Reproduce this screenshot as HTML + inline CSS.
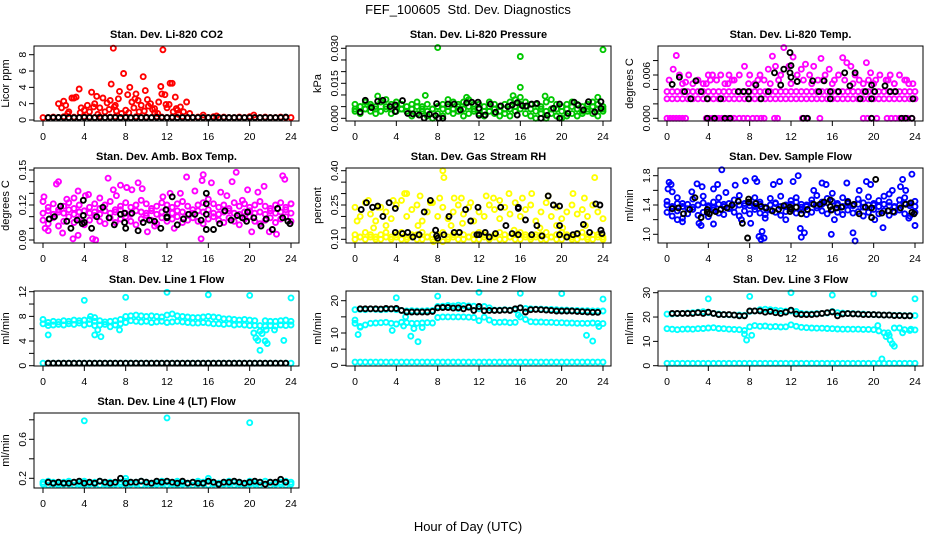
<!DOCTYPE html>
<html><head><meta charset="utf-8"><title>FEF_100605 Std. Dev. Diagnostics</title>
<style>html,body{margin:0;padding:0;background:#fff}svg{display:block}text{font-family:"Liberation Sans",Arial,sans-serif}</style>
</head><body>
<svg id="chart" width="936" height="540" viewBox="0 0 936 540" xmlns="http://www.w3.org/2000/svg">
<rect width="936" height="540" fill="#fff"/>
<text x="468" y="14" text-anchor="middle" font-size="13">FEF_100605&#160; Std. Dev. Diagnostics</text>
<text x="468" y="531" text-anchor="middle" font-size="13">Hour of Day (UTC)</text>
</svg>
<script>
// ---- data arrays (49 values = every 0.5 h from 0; 47 values = every 0.5 h from 0.5) ----
const panelTitles=["Stan. Dev. Li-820 CO2","Stan. Dev. Li-820 Pressure","Stan. Dev. Li-820 Temp.","Stan. Dev. Amb. Box Temp.","Stan. Dev. Gas Stream RH","Stan. Dev. Sample Flow","Stan. Dev. Line 1 Flow","Stan. Dev. Line 2 Flow","Stan. Dev. Line 3 Flow","Stan. Dev. Line 4 (LT) Flow"];
const yTitles=["Licor ppm","kPa","degrees C","degrees C","percent","ml/min","ml/min","ml/min","ml/min","ml/min"];
const xTicks=[0,4,8,12,16,20,24];

const co2Base=[0.3,0.3,0.35,0.3,0.4,0.3,0.35,0.3,0.4,0.35,0.3,0.4,0.3,0.35,0.4,0.3,0.35,0.3,0.4,0.3,0.35,0.3,0.4,0.35,0.3,0.35,0.3,0.4,0.3,0.3,0.35,0.3,0.3,0.4,0.3,0.35,0.3,0.3,0.35,0.3,0.4,0.3,0.3,0.35,0.3,0.3,0.35,0.3,0.3];
const co2ScatX=[1.5,1.8,2,2.2,2.5,2.8,3,3.2,3.5,3.7,4,4.3,4.7,5,5.2,5.5,5.8,6,6.2,6.5,6.6,6.8,7,7.3,7.4,7.8,8,8.2,8.4,8.6,8.8,9,9.2,9.5,9.7,9.9,10.1,10.4,10.8,11.2,11.4,11.6,11.5,11.8,12,12.2,12.3,12.5,12.8,13,13.3,13.6,13.9,14.2,15.5,16.8,20.4,9.3,10.8,7.6,2.4,3.6,4.5,5.3,6.4,7.1,8.3,9.8,10.6,11.1,12.6,13.1,4.9,6.9,8.9,10.2,11.9,12.9];
const co2ScatY=[2.0,1.5,2.3,1.8,1.0,2.7,2.7,2.8,3.8,1.5,1.2,1.8,3.4,2.0,2.9,1.5,2.7,1.0,2.1,2.4,4.4,8.8,1.8,2.6,3.5,5.7,1.2,3.1,4.0,2.2,1.5,3.2,2.4,1.8,5.3,3.6,2.5,2.0,1.4,2.2,4.1,8.6,3.2,3.1,1.5,1.9,4.5,4.5,2.8,1.2,1.6,1.0,2.2,0.8,0.6,0.5,0.6,1.0,0.9,0.8,0.8,0.9,1.0,0.7,1.3,1.1,0.9,1.1,1.3,0.8,1.0,0.7,1.6,1.6,2.6,1.7,1.9,1.4];
const co2Black=[0.3,0.3,0.32,0.3,0.3,0.28,0.3,0.32,0.3,0.3,0.3,0.3,0.32,0.3,0.3,0.3,0.28,0.3,0.3,0.3,0.3,0.32,0.3,0.3,0.3,0.3,0.3,0.3,0.32,0.3,0.3,0.3,0.3,0.3,0.3,0.3,0.3,0.3,0.3,0.3,0.3,0.3,0.3,0.3,0.3,0.3,0.35];

const presHi=[0.006,0.005,0.007,0.006,0.005,0.007,0.008,0.006,0.007,0.006,0.005,0.006,0.007,0.005,0.006,0.004,0.005,0.006,0.008,0.007,0.006,0.007,0.008,0.006,0.006,0.005,0.007,0.006,0.005,0.006,0.007,0.008,0.009,0.007,0.006,0.006,0.005,0.007,0.008,0.006,0.005,0.006,0.007,0.006,0.005,0.006,0.007,0.006,0.005];
const presMid=[0.004,0.005,0.004,0.005,0.004,0.003,0.005,0.004,0.005,0.004,0.003,0.004,0.005,0.004,0.003,0.004,0.005,0.004,0.005,0.004,0.005,0.004,0.005,0.004,0.004,0.003,0.005,0.004,0.003,0.004,0.004,0.005,0.006,0.005,0.004,0.003,0.004,0.003,0.004,0.004,0.003,0.004,0.005,0.004,0.003,0.004,0.005,0.004,0.004];
const presLo=[0.003,0.002,0.004,0.003,0.002,0.003,0.004,0.002,0.003,0.004,0.003,0.001,0.002,0.003,0.001,0.000,0.002,0.001,0.003,0.002,0.003,0.001,0.002,0.003,0.002,0.001,0.003,0.002,0.001,0.002,0.001,0.003,0.004,0.002,0.001,0.000,0.002,0.000,0.002,0.001,0.000,0.001,0.002,0.001,0.002,0.003,0.002,0.001,0.003];
const presOutX=[8,16,24,16,15.3,2.2,10.8,18.4,23.5,6.8];
const presOutY=[0.0303,0.0265,0.0294,0.0133,0.0097,0.0095,0.009,0.0095,0.009,0.0098];
const presBlkX=[0.5,1,1.6,2.2,2.7,3.4,3.9,3.9,4.6,5.1,5.6,6.2,6.7,7.2,7.8,7.9,8.1,8.5,9,9.6,10.2,10.8,11.3,11.9,12,12,12.6,13.1,13.6,14.1,14.8,15.2,15.7,15.7,16.2,16.6,17.1,17.6,18,18.6,19.2,19.8,19.8,20.6,21.2,21.6,22.1,22.6,23.2,23.8,23.8];
const presBlkY=[0.0026,0.0077,0.0046,0.0073,0.0077,0.005,0.0057,0.0029,0.0076,0.0021,0.0019,0.0014,0.0001,0.0017,0.0011,0.0063,0,0,0.0061,0.0061,0.0036,0.0066,0.0069,0.0069,0.0013,0.0043,0.0014,0.0061,0.0026,0.0053,0.005,0.0057,0.0067,0.0014,0.0054,0.0053,0.0061,0.0064,0,0.0013,0.0043,0.0061,0,0.0021,0.0069,0.0056,0.0036,0.0071,0.0027,0.0043,0.0071];

const tmpLvl1=[0.0027,0.0027,0.0027,0.0027,0.0027,0.0027,0.0027,0.0027,0.0027,0.0027,0.0027,0.0027,0.0027,0.0027,0.0027,0.0027,0.0027,0.0027,0.0027,0.0027,0.0027,0.0027,0.0027,0.0027,0.0027,0.0027,0.0027,0.0027,0.0027,0.0027,0.0027,0.0027,0.0027,0.0027,0.0027,0.0027,0.0027,0.0027,0.0027,0.0027,0.0027,0.0027,0.0027,0.0027,0.0027,0.0027,0.0027,0.0027,0.0027];
const tmpLvl2=[0.0037,0.0037,0.0037,0.0037,0.0037,0.0037,0.0037,0.0037,0.0037,0.0037,0.0037,0.0037,0.0037,0.0037,0.0037,0.0037,0.0037,0.0037,0.0037,0.0037,0.0037,0.0037,0.0037,0.0037,0.0037,0.0037,0.0037,0.0037,0.0037,0.0037,0.0037,0.0037,0.0037,0.0037,0.0037,0.0037,0.0037,0.0037,0.0037,0.0037,0.0037,0.0037,0.0037,0.0037,0.0037,0.0037,0.0037,0.0037,0.0037];
const tmpScatX=[0.2,0.6,0.9,1.2,1.8,2.1,2.5,3,3.5,4,4.4,4.8,5.2,5.6,6,6.5,7,7.5,8,8.5,9,9.4,9.8,10.2,10.5,11,11.3,11.8,12.2,12.6,13,13.4,13.8,14.2,14.6,14.9,15.3,15.7,16.2,16.6,17,17.4,17.8,18.2,18.6,19,19.3,19.7,20.2,20.6,21.2,21.6,22,22.5,23,23.4,1.5,3.8,5.9,7.9,10,12,14,16,18,20,22,23.8,4.2,6.3,8.8,10.8,13.2,15.1,17.2,19.5,21.4,23.2];
const tmpScatY=[0.0053,0.0068,0.0087,0.006,0.005,0.006,0.0048,0.0053,0.0048,0.006,0.006,0.0053,0.006,0.0048,0.006,0.0053,0.006,0.0072,0.006,0.0048,0.006,0.0053,0.0068,0.0086,0.0072,0.006,0.0098,0.0072,0.0085,0.006,0.0068,0.0075,0.006,0.0072,0.0053,0.0083,0.006,0.0068,0.0053,0.006,0.0084,0.0077,0.0072,0.006,0.0053,0.0048,0.0077,0.0063,0.0053,0.006,0.0053,0.006,0.0048,0.006,0.0053,0.0048,0.0048,0.0048,0.0048,0.0048,0.0048,0.0048,0.0048,0.0048,0.0048,0.0048,0.0048,0.0048,0.0053,0.0053,0.0053,0.0053,0.0053,0.0053,0.0053,0.0053,0.0053,0.0053];
const tmpZeroX=[0,0.3,0.6,0.9,1.2,1.5,1.8,3.8,4.1,4.4,4.7,5,5.3,5.6,5.9,6.2,6.5,7.0,7.4,7.8,8.3,8.7,9.1,9.4,10.4,10.7,13.1,13.5,14.8,19.0,19.4,19.8,20.3,21.3,21.7,22.1,22.5,22.9,23.3,23.7];
const tmpZeroY=[0,0,0,0,0,0,0,0,0,0,0,0,0,0,0,0,0,0,0,0,0,0,0,0,0,0,0,0,0,0,0,0,0,0,0,0,0,0,0,0];
const tmpBlkX=[0.5,1.2,1.7,2.3,2.8,3.3,3.9,3.9,4.6,5.2,5.6,6.1,6.9,7.4,7.9,7.9,8.6,9.1,9.8,10.4,11,11.3,11.9,11.9,12,12,12.6,13.2,13.6,14.1,14.7,15.2,15.8,15.8,16.6,17.2,17.7,18.2,18.7,19.2,19.8,19.8,19.8,20.1,21.1,21.6,22.1,22.7,23.1,23.7,23.8];
const tmpBlkY=[0.0047,0.0057,0.0037,0.0027,0.0052,0.0037,0.0027,0,0,0.0027,0,0,0.0037,0.0037,0.0027,0.0037,0.0046,0.0027,0.0037,0.0063,0.0046,0.0068,0.0091,0.0063,0.0073,0.0057,0.0051,0,0,0.0052,0.0037,0.0052,0.0037,0.0027,0.0037,0.0063,0.0045,0.0063,0.0027,0.0037,0.0046,0.0027,0,0.0037,0.0045,0.0037,0.0037,0,0,0,0.0027];

const ambHi=[0.123,0.118,0.121,0.116,0.119,0.122,0.117,0.12,0.115,0.118,0.121,0.117,0.12,0.123,0.116,0.119,0.122,0.118,0.12,0.124,0.121,0.117,0.119,0.122,0.12,0.118,0.121,0.123,0.119,0.116,0.12,0.122,0.125,0.121,0.118,0.12,0.117,0.122,0.119,0.121,0.118,0.12,0.123,0.119,0.117,0.12,0.122,0.118,0.121];
const ambMid=[0.113,0.115,0.112,0.114,0.113,0.116,0.112,0.114,0.115,0.113,0.114,0.112,0.115,0.113,0.114,0.116,0.113,0.112,0.115,0.114,0.113,0.115,0.112,0.114,0.116,0.113,0.115,0.114,0.112,0.113,0.115,0.114,0.116,0.113,0.112,0.114,0.115,0.113,0.112,0.114,0.115,0.113,0.114,0.112,0.115,0.113,0.114,0.116,0.113];
const ambLo=[0.107,0.104,0.109,0.102,0.106,0.11,0.105,0.108,0.103,0.107,0.111,0.106,0.104,0.109,0.105,0.108,0.11,0.106,0.103,0.108,0.111,0.107,0.104,0.109,0.106,0.108,0.11,0.105,0.107,0.109,0.106,0.104,0.108,0.11,0.107,0.105,0.109,0.106,0.103,0.108,0.11,0.106,0.104,0.107,0.109,0.105,0.108,0.11,0.106];
const ambScatX=[0.1,0.2,0.5,1.3,1.5,1.9,2.3,2.9,3,3.4,3.4,4.1,4.4,4.8,5.1,5.5,6.3,6.8,7.1,7.5,8.1,8.6,9.2,9.6,10.1,10.8,11.6,12.3,12.7,13.3,13.9,14.7,15.3,15.5,15.4,16.3,17.2,17.8,18.3,18.7,19.3,19.8,20.2,20.8,21.4,21.9,22.6,23.2,23.4,23.6,24];
const ambScatY=[0.127,0.1,0.098,0.138,0.14,0.096,0.125,0.091,0.126,0.132,0.094,0.128,0.129,0.091,0.09,0.126,0.143,0.133,0.128,0.137,0.135,0.133,0.139,0.134,0.097,0.102,0.127,0.13,0.1,0.13,0.144,0.132,0.091,0.146,0.141,0.139,0.131,0.128,0.14,0.148,0.124,0.133,0.097,0.131,0.136,0.097,0.095,0.145,0.142,0.154,0.121];
const ambBlkX=[0.6,1.1,1.7,2.3,2.7,3.3,3.8,3.9,3.9,4,4.7,5.2,5.8,6.4,6.9,7.5,7.9,7.9,8,8.6,9.2,9.7,10.3,10.8,11.4,11.9,12,12,12.5,13,13.6,14.1,14.7,15.3,15.8,15.8,15.8,15.8,16.5,17.1,17.6,18.2,18.8,19.3,19.7,19.8,20.4,21.1,21.6,22.2,22.7,23.2,23.7,23.9];
const ambBlkY=[0.108,0.11,0.119,0.106,0.1,0.107,0.104,0.124,0.111,0.105,0.1,0.11,0.118,0.109,0.103,0.112,0.113,0.105,0.1,0.113,0.098,0.105,0.107,0.106,0.1,0.116,0.109,0.11,0.127,0.103,0.108,0.112,0.112,0.107,0.13,0.121,0.112,0.099,0.099,0.104,0.115,0.107,0.111,0.109,0.106,0.114,0.109,0.102,0.108,0.099,0.117,0.109,0.106,0.104];

const rhLo=[0.12,0.11,0.13,0.12,0.11,0.12,0.13,0.11,0.12,0.13,0.11,0.12,0.12,0.13,0.11,0.12,0.12,0.13,0.11,0.12,0.13,0.12,0.11,0.12,0.13,0.12,0.11,0.12,0.13,0.12,0.11,0.12,0.13,0.12,0.11,0.12,0.12,0.13,0.11,0.12,0.13,0.12,0.11,0.12,0.13,0.11,0.12,0.12,0.11];
const rhLo2=[0.1,0.11,0.1,0.11,0.1,0.1,0.11,0.1,0.11,0.1,0.1,0.11,0.1,0.1,0.11,0.1,0.1,0.09,0.1,0.11,0.1,0.1,0.11,0.1,0.1,0.11,0.1,0.11,0.1,0.1,0.11,0.1,0.1,0.11,0.1,0.11,0.1,0.1,0.11,0.1,0.1,0.11,0.1,0.1,0.11,0.1,0.1,0.11,0.1];
const rhHi=[0.24,0.2,0.26,0.21,0.18,0.24,0.22,0.19,0.25,0.27,0.2,0.23,0.25,0.18,0.22,0.26,0.2,0.24,0.19,0.22,0.25,0.21,0.24,0.18,0.22,0.2,0.25,0.23,0.19,0.24,0.21,0.26,0.2,0.23,0.25,0.18,0.22,0.26,0.2,0.24,0.19,0.22,0.25,0.21,0.23,0.2,0.25,0.22,0.19];
const rhScatX=[4.8,5,6.3,7.3,8.5,8.6,8.2,9.6,10.3,12.7,13.4,14,14.9,16.2,17.1,18.7,21.1,22.2,23.2,11.2,3.7,1.3,2.2,0.2,6.1,7.6,9.3,15.4,19.5,20.1,3,24,1.8,10.4,17.9,22.3];
const rhScatY=[0.3,0.3,0.29,0.26,0.4,0.37,0.28,0.28,0.28,0.29,0.28,0.27,0.3,0.28,0.3,0.29,0.3,0.28,0.37,0.26,0.27,0.27,0.24,0.18,0.16,0.09,0.16,0.14,0.16,0.15,0.16,0.1,0.15,0.17,0.15,0.16];
const rhBlkX=[0.6,1.1,1.7,2.2,2.7,3.3,3.9,3.9,4.6,5.1,5.6,6.2,6.7,7.3,7.8,7.9,8,8.6,9.1,9.6,10.1,10.7,11.2,11.8,11.9,12,12.6,13,13.6,14.1,14.6,15.2,15.8,15.8,15.8,16.5,17.1,17.6,18.1,18.7,19.2,19.8,19.8,19.8,20.5,21.1,21.5,22.1,22.7,23.3,23.7,23.8,23.9];
const rhBlkY=[0.23,0.26,0.24,0.245,0.2,0.26,0.235,0.13,0.125,0.13,0.11,0.12,0.22,0.27,0.14,0.115,0.105,0.12,0.2,0.13,0.13,0.23,0.18,0.12,0.24,0.12,0.13,0.11,0.125,0.24,0.16,0.125,0.24,0.235,0.12,0.185,0.12,0.16,0.115,0.29,0.25,0.245,0.16,0.12,0.11,0.12,0.125,0.165,0.13,0.255,0.25,0.14,0.125];

const sfA=[1.45,1.38,1.5,1.42,1.35,1.48,1.4,1.52,1.37,1.44,1.5,1.41,1.36,1.47,1.53,1.42,1.39,1.5,1.44,1.37,1.49,1.43,1.52,1.4,1.46,1.5,1.41,1.38,1.47,1.53,1.44,1.49,1.56,1.42,1.5,1.45,1.39,1.48,1.43,1.51,1.4,1.46,1.52,1.44,1.38,1.47,1.5,1.42,1.45];
const sfB=[1.3,1.25,1.32,1.22,1.28,1.34,1.26,1.3,1.24,1.33,1.29,1.27,1.35,1.3,1.25,1.32,1.28,1.34,1.29,1.27,1.33,1.3,1.26,1.31,1.35,1.29,1.33,1.27,1.3,1.36,1.32,1.28,1.34,1.3,1.27,1.33,1.29,1.31,1.25,1.3,1.34,1.28,1.32,1.26,1.3,1.33,1.28,1.25,1.3];
const sfC=[1.4,1.36,1.42,1.38,1.41,1.37,1.4,1.43,1.39,1.36,1.41,1.38,1.42,1.37,1.4,1.39,1.43,1.38,1.41,1.36,1.4,1.42,1.38,1.39,1.41,1.44,1.37,1.4,1.42,1.39,1.41,1.43,1.45,1.4,1.38,1.42,1.39,1.41,1.37,1.4,1.42,1.38,1.41,1.39,1.37,1.4,1.42,1.39,1.38];
const sfScatX=[0.1,0.2,0.4,0.5,1,1.5,2.4,2.9,3.1,3.3,3.4,4.5,4.5,4.9,5.3,5.7,6.6,7.2,7.6,8.1,8.5,8.7,8.9,9.1,9.2,9.4,9.5,10.3,10.9,11.5,12.2,12.7,12.9,13,13.3,14.2,15,15.4,15.9,16.2,17.4,18,18.2,18.6,19.3,19.7,20.1,20.9,21.5,21.8,22.6,22.8,23.1,23.4,23.7,24];
const sfScatY=[1.62,1.71,1.68,1.58,1.2,1.17,1.58,1.69,1.15,1.12,1.65,1.14,1.62,1.68,1.88,1.57,1.67,1.2,1.73,1.15,1.76,1.72,0.97,0.93,1.04,0.95,1.22,1.68,1.72,1.2,1.72,1.8,1.08,0.96,1.02,1.6,1.7,1.68,1.0,1.2,1.7,1.02,0.91,1.6,1.72,1.68,1.2,1.09,1.55,1.6,1.65,1.75,1.6,1.22,1.82,1.12];
const sfBlkX=[0.5,1.1,1.6,2.2,2.7,3.3,3.9,3.9,4.1,4.7,5.2,5.8,6.3,6.9,7.3,7.8,7.9,7.9,8.6,9.1,9.6,10.2,10.8,11.3,11.9,11.9,12,12.5,13,13.6,14.2,14.8,15.2,15.8,15.8,15.9,16.4,16.9,17.5,18.1,18.6,19.2,19.8,19.8,20.2,20.8,21.4,21.9,22.6,23.1,23.6,23.7,23.9];
const sfBlkY=[1.35,1.36,1.28,1.34,1.5,1.23,1.34,1.3,1.28,1.31,1.34,1.36,1.4,1.45,1.15,0.95,1.44,1.48,1.42,1.38,1.36,1.32,1.34,1.39,1.31,1.37,1.34,1.37,1.28,1.34,1.41,1.41,1.44,1.47,1.38,1.33,1.36,1.37,1.44,1.41,1.28,1.37,1.36,1.23,1.75,1.29,1.32,1.31,1.36,1.41,1.43,1.3,1.28];

const l1Hi=[7.5,7.0,7.2,7.1,7.3,7.2,7.4,7.3,7.4,7.5,7.2,7.3,7.1,7.2,7.3,7.5,8.0,8.1,8.2,8.1,8.0,8.1,8.0,7.9,8.2,8.4,8.1,8.0,7.9,7.8,7.8,7.9,8.0,7.9,7.8,7.6,7.6,7.5,7.4,7.5,7.4,7.3,6.5,7.3,7.2,7.2,7.3,7.4,7.2];
const l1Lo=[6.8,6.5,6.6,6.7,6.6,6.8,6.7,6.9,6.6,6.8,6.5,6.6,6.7,6.3,6.6,6.8,7.0,7.3,7.2,7.1,7.2,7.0,7.1,7.2,7.0,7.1,7.2,7.1,7.0,6.9,6.9,7.0,6.9,6.8,6.8,6.7,6.8,6.6,6.7,6.6,6.5,6.5,5.6,6.4,6.5,6.4,6.6,6.5,6.6];
const l1Zero=[0.4,0.4,0.4,0.4,0.4,0.4,0.4,0.4,0.4,0.4,0.4,0.4,0.4,0.4,0.4,0.4,0.4,0.4,0.4,0.4,0.4,0.4,0.4,0.4,0.4,0.4,0.4,0.4,0.4,0.4,0.4,0.4,0.4,0.4,0.4,0.4,0.4,0.4,0.4,0.4,0.4,0.4,0.4,0.4,0.4,0.4,0.4,0.4,0.4];
const l1OutX=[0.5,4,4.6,5,5.3,5.6,5,7.4,8,12,16,20,20.4,20.6,20.8,21.0,21.2,21.5,21.7,21.6,22.4,23.3,24];
const l1OutY=[5.0,10.6,8.0,5.0,5.8,4.7,7.8,5.8,11.1,11.9,11.5,11.4,5.3,4.5,4.1,2.5,5.2,4.0,3.6,5.8,5.8,4.1,11.0];
const l1Black=[0.4,0.4,0.4,0.4,0.4,0.4,0.4,0.4,0.4,0.4,0.4,0.4,0.4,0.4,0.4,0.4,0.4,0.4,0.4,0.4,0.4,0.4,0.4,0.4,0.4,0.4,0.4,0.4,0.4,0.4,0.4,0.4,0.4,0.4,0.4,0.4,0.4,0.4,0.4,0.4,0.4,0.4,0.4,0.4,0.4,0.4,0.4];

const l2Top=[17.2,17.3,17.2,17.4,17.3,17.2,17.3,17.4,17.2,17.0,16.8,16.9,16.8,16.8,16.9,17.0,18.2,18.3,18.5,18.4,18.6,18.5,18.4,18.3,17.5,18.2,17.8,17.1,17.1,17.2,17.1,17.2,17.8,17.6,17.5,17.4,17.4,17.3,17.3,17.2,17.1,17.1,17.0,17.0,16.9,16.9,16.8,16.8,16.8];
const l2Mid=[13,12,12.5,13,13.1,13.2,13.3,13,12.8,13.3,13.2,13,13,13.1,13.2,13.1,14.8,15,15,15,15,15,14.9,14.8,13.8,14.9,14,13.3,13.3,13.4,13.2,13.3,15,14.2,13.5,13.4,13.4,13.3,13.3,13.2,13.2,13.1,13.1,13.0,13.0,13.0,13.1,13.0,12.9];
const l2Bot=[1,1,1,1,1,1,1,1,1,1,1,1,1,1,1,1,1,1,1,1,1,1,1,1,1,1,1,1,1,1,1,1,1,1,1,1,1,1,1,1,1,1,1,1,1,1,1,1,1];
const l2OutX=[0,0.3,0.5,4,3.6,4.7,4.9,5.4,5.7,6.1,6.5,8,12,16,20,22.4,23,23.6,24,15.8,10];
const l2OutY=[14,9.5,11.8,20.9,10.8,12.2,15,9,11.4,7.3,11.7,21.4,22.6,22.3,22.2,9.3,7.5,12,20.5,15.6,17.6];
const l2Black=[17.5,17.5,17.5,17.5,17.4,17.6,17.5,17.6,17,16.5,16.5,16.5,16.5,16.5,16.7,17.8,17.9,17.9,17.7,17.8,17.5,18.0,17.0,18.2,16.9,17,17,17.0,17.1,17.0,17.5,17.8,16.5,17.2,17.3,17.2,17.1,17.0,16.8,16.8,16.8,16.8,16.7,16.6,16.5,16.4,16.4];

const l3Top=[21.2,21.3,21.4,21.5,21.6,21.8,22.0,22.2,21.8,21.5,21.2,21.0,20.9,20.8,20.8,20.7,22.3,22.5,23.0,23.2,23.0,22.8,22.6,22.4,22.5,22.3,21.5,21.3,21.3,21.4,21.5,21.6,22.3,21.8,21.6,21.5,21.4,21.3,21.2,21.1,21.0,20.9,20.8,20.8,20.7,20.7,20.6,20.6,20.6];
const l3Mid=[15.2,15,14.8,15,15.1,15,15.2,15.3,15.5,15.6,15.3,15.2,15,14.9,14.8,14.5,16,16.5,16.2,16.3,16,16.1,15.9,16,16.8,16.2,15.8,15.6,15.5,15.4,15.4,15.3,15.2,15.1,15,15,15,15,14.9,14.9,14.8,14.3,13.5,12.5,15.5,15.5,14.8,14.5,14.7];
const l3Bot=[1,1,1,1,1,1,1,1,1,1,1,1,1,1,1,1,1,1,1,1,1,1,1,1,1,1,1,1,1,1,1,1,1,1,1,1,1,1,1,1,1,1,1,1,1,1,1,1,1];
const l3OutX=[4,8,12,16,20,24,7.5,7.7,8.2,21.6,21.8,22,21.2,21.4,20.4,22.8,23.6,20.8];
const l3OutY=[27.5,28.5,30,29,29.5,27.5,13,10.5,12.5,10.5,9,8,12,13.5,16.5,13.5,15,2.8];
const l3Black=[21.5,21.5,21.5,21.5,21.5,21.8,21.5,22,21.5,21,21,21,20.8,20.5,20.5,22.5,22.5,22.5,22,22.3,21.8,21.5,22,22.8,21.2,21,21,21,21.2,21.5,21.8,22.1,20.5,21.3,21.4,21.3,21.2,21,21,21,20.9,20.8,20.8,20.6,20.6,20.5,20.5];

const l4A=[0.16,0.17,0.16,0.15,0.16,0.17,0.16,0.16,0.17,0.15,0.16,0.17,0.16,0.16,0.15,0.16,0.17,0.16,0.16,0.17,0.16,0.15,0.16,0.17,0.16,0.16,0.17,0.16,0.15,0.16,0.17,0.16,0.17,0.16,0.15,0.16,0.17,0.16,0.16,0.15,0.17,0.16,0.16,0.17,0.16,0.15,0.16,0.17,0.16];
const l4B=[0.14,0.13,0.14,0.13,0.14,0.14,0.13,0.14,0.13,0.14,0.14,0.13,0.14,0.13,0.14,0.14,0.13,0.14,0.14,0.13,0.14,0.13,0.14,0.14,0.13,0.14,0.13,0.14,0.14,0.13,0.14,0.14,0.13,0.14,0.13,0.14,0.14,0.13,0.14,0.13,0.14,0.14,0.13,0.14,0.13,0.14,0.14,0.13,0.14];
const l4OutX=[4,12,20,16,8];
const l4OutY=[0.79,0.82,0.77,0.2,0.2];
const l4Black=[0.16,0.15,0.16,0.15,0.15,0.16,0.17,0.15,0.16,0.15,0.17,0.16,0.15,0.16,0.2,0.15,0.16,0.16,0.17,0.16,0.15,0.17,0.16,0.17,0.16,0.15,0.17,0.15,0.16,0.15,0.15,0.17,0.16,0.14,0.16,0.16,0.17,0.16,0.15,0.16,0.17,0.16,0.14,0.16,0.16,0.19,0.16];

// y tick values & labels
const yTickVals=[[0,2,4,6,8],[0,0.005,0.01,0.015,0.02,0.025,0.03],[0,0.002,0.004,0.006,0.008],[0.09,0.1,0.11,0.12,0.13,0.14,0.15],[0.1,0.15,0.2,0.25,0.3,0.35,0.4],[1.0,1.2,1.4,1.6,1.8],[0,2,4,6,8,10,12],[0,5,10,15,20],[0,10,20,30],[0.2,0.4,0.6,0.8]];
const yTickLabels=[["0","2","4","6","8"],["0.000","","","0.015","","","0.030"],["0.000","","","0.006",""],["0.09","","","0.12","","","0.15"],["0.10","","","0.25","","","0.40"],["1.0","","1.4","","1.8"],["0","","4","","8","","12"],["0","5","10","","20"],["0","10","20","30"],["0.2","","0.6",""]];

// ---- layout (axis calibration) ----
const rowTop=[46,168,291,413], boxH=75, boxW=265;
const yCal=[[0,74,8,8.7],[0,72.3,0.03,2.3],[0,72.3,0.006,29],[0.09,72,0.15,2],[0.1,71.3,0.4,2.7],[1.0,66.3,1.8,7.7],[0,74.7,12,0.7],[0,74.3,20,9.7],[0,74.7,30,1.7],[0.2,65.3,0.6,26.3]];
const RED="#ff0000",GRN="#00c800",MAG="#ff00ff",YEL="#ffff00",BLU="#0000ff",CYN="#00ffff",BLK="#000000";

function grid(n){const s=n===47?0.5:0;const a=[];for(let i=0;i<n;i++)a.push(s+i*0.5);return a;}
const panelSeries=[
 [[null,co2Base,RED],[co2ScatX,co2ScatY,RED],[null,co2Black,BLK]],
 [[null,presHi,GRN],[null,presMid,GRN],[null,presLo,GRN],[presOutX,presOutY,GRN],[presBlkX,presBlkY,BLK]],
 [[null,tmpLvl1,MAG],[null,tmpLvl2,MAG],[tmpScatX,tmpScatY,MAG],[tmpZeroX,tmpZeroY,MAG],[tmpBlkX,tmpBlkY,BLK]],
 [[null,ambHi,MAG],[null,ambMid,MAG],[null,ambLo,MAG],[ambScatX,ambScatY,MAG],[ambBlkX,ambBlkY,BLK]],
 [[null,rhLo,YEL],[null,rhLo2,YEL],[null,rhHi,YEL],[rhScatX,rhScatY,YEL],[rhBlkX,rhBlkY,BLK]],
 [[null,sfA,BLU],[null,sfB,BLU],[null,sfC,BLU],[sfScatX,sfScatY,BLU],[sfBlkX,sfBlkY,BLK]],
 [[null,l1Hi,CYN],[null,l1Lo,CYN],[null,l1Zero,CYN],[l1OutX,l1OutY,CYN],[null,l1Black,BLK]],
 [[null,l2Top,CYN],[null,l2Mid,CYN],[null,l2Bot,CYN],[l2OutX,l2OutY,CYN],[null,l2Black,BLK]],
 [[null,l3Top,CYN],[null,l3Mid,CYN],[null,l3Bot,CYN],[l3OutX,l3OutY,CYN],[null,l3Black,BLK]],
 [[null,l4A,CYN],[null,l4B,CYN],[l4OutX,l4OutY,CYN],[null,l4Black,BLK]]
];

const NS="http://www.w3.org/2000/svg";
const svg=document.getElementById("chart");
function mk(tag,attrs,parent){const e=document.createElementNS(NS,tag);for(const k in attrs)e.setAttribute(k,attrs[k]);parent.appendChild(e);return e;}

panelSeries.forEach((series,p)=>{
  const col=p%3,row=Math.floor(p/3);
  const left=34+312*col, top=rowTop[row];
  const xs=v=>43+312*col+v*(248/24);
  const c=yCal[p];
  const ys=v=>top+c[1]+(v-c[0])*(c[3]-c[1])/(c[2]-c[0]);
  const g=mk("g",{},svg);
  
  
  const t=mk("text",{x:left+boxW/2,y:top-8,"text-anchor":"middle","font-size":"11","font-weight":"bold"},g);
  t.textContent=panelTitles[p];
  
  
  const yt=mk("text",{x:0,y:0,"text-anchor":"middle","font-size":"11",transform:`translate(${left-25},${top+boxH/2}) rotate(-90)`},g);
  yt.textContent=yTitles[p];
  
  
  const pg=mk("g",{fill:"none","stroke-width":"1.9"},g);
  
  
  series.forEach(s=>{
    const X=s[0]||grid(s[1].length);
    s[1].forEach((v,i)=>{
      const cy=ys(v); if(cy<top-2||cy>top+boxH+2) return;
      const ci=mk("circle",{cx:xs(X[i]).toFixed(1),cy:cy.toFixed(1),r:"2.5",stroke:s[2]},pg);
      
      
    });
  });
  const b=mk("rect",{x:left,y:top,width:boxW,height:boxH,fill:"none",stroke:"#000","stroke-width":"1"},g);
  
  
  const xa=mk("g",{},g);
  
  
  mk("line",{x1:xs(0),x2:xs(24),y1:top+boxH,y2:top+boxH,stroke:"#000"},xa);
  xTicks.forEach(v=>{
    mk("line",{x1:xs(v),x2:xs(v),y1:top+boxH,y2:top+boxH+5,stroke:"#000"},xa);
    const tl=mk("text",{x:xs(v),y:top+boxH+19,"text-anchor":"middle","font-size":"10.5"},xa);
    tl.textContent=String(v);
    
    
  });
  const ya=mk("g",{},g);
  
  
  const tv=yTickVals[p];
  mk("line",{x1:left,x2:left,y1:ys(tv[0]),y2:ys(tv[tv.length-1]),stroke:"#000"},ya);
  tv.forEach((v,i)=>{
    const y=ys(v);
    mk("line",{x1:left-5,x2:left,y1:y,y2:y,stroke:"#000"},ya);
    if(yTickLabels[p][i]){
      const tl=mk("text",{x:0,y:0,"text-anchor":"middle","font-size":"10.5",transform:`translate(${left-8},${y}) rotate(-90)`},ya);
      tl.textContent=yTickLabels[p][i];
      
      
    }
  });
});
</script>
</body></html>
